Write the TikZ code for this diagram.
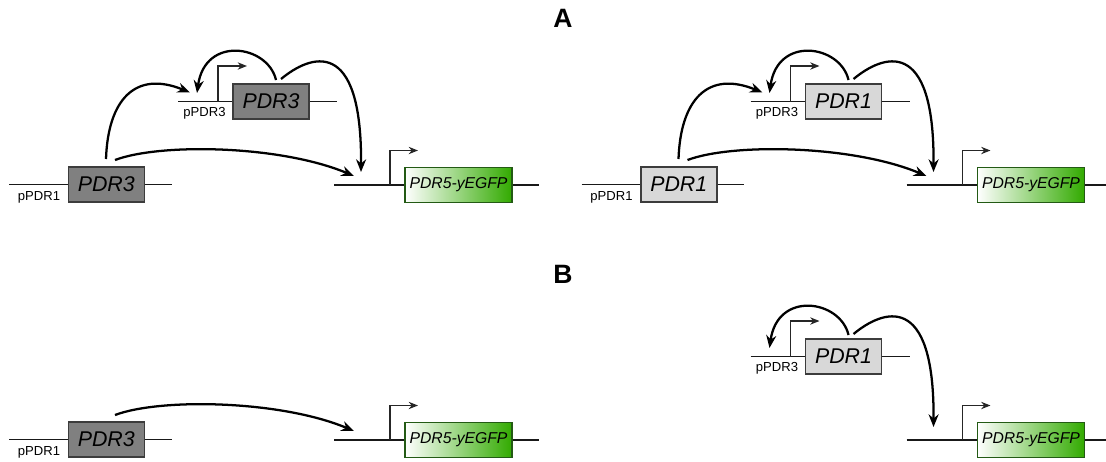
\documentclass[tikz,border=0pt]{standalone}
\usepackage{fontspec}
\setmainfont{Liberation Sans}
\usetikzlibrary{arrows.meta}

\definecolor{genedark}{RGB}{128,128,128}
\definecolor{genelight}{RGB}{216,216,216}
\definecolor{geneedge}{RGB}{60,60,60}
\definecolor{egfp}{RGB}{50,170,0}
\definecolor{egfpedge}{RGB}{35,90,20}

\tikzset{
  dnaline/.style={line width=1.4pt, black!90},
  genebox/.style={draw=geneedge, line width=1.2pt, minimum width=57pt,
    minimum height=26.25pt, inner sep=0pt,
    font=\fontsize{16}{16}\selectfont\itshape},
  darkgene/.style={genebox, fill=genedark},
  lightgene/.style={genebox, fill=genelight},
  reportbox/.style={draw=egfpedge, line width=1.1pt, minimum width=80.25pt,
    minimum height=26.25pt, inner sep=0pt, left color=white, right color=egfp,
    font=\fontsize{11.8}{12}\selectfont\itshape},
  promlabel/.style={font=\fontsize{9.8}{10}\selectfont, inner sep=0pt, anchor=base},
  promoter/.style={line width=1pt, black!85, -{Stealth[length=7pt,width=5.5pt]}},
  regarrow/.style={line width=1.7pt, -{Stealth[length=9.5pt,width=7.5pt]}},
  panellabel/.style={font=\fontsize{19.9}{20}\selectfont\bfseries},
}

% driver cassette under the PDR1 promoter: name prefix, box style, gene
\newcommand\lowerdriver[3]{%
  \coordinate (#1l) at (9,184.5);
  \coordinate (#1r) at (171.7,184.5);
  \node[#2] (#1box) at (106.3,184.5) {#3};
  \draw[dnaline] (#1l) -- (#1box.west);
  \draw[dnaline] (#1box.east) -- (#1r);
  \node[promlabel] (#1lab) at (39,200) {pPDR1};
  \coordinate (#1up) at (106,159);
  \coordinate (#1fwd) at (115,160);
}

% driver cassette under the PDR3 promoter
\newcommand\upperdriver[3]{%
  \coordinate (#1l) at (178,101.5);
  \coordinate (#1r) at (337,101.5);
  \node[#2] (#1box) at (271,101.5) {#3};
  \draw[dnaline] (#1l) -- (#1box.west);
  \draw[dnaline] (#1box.east) -- (#1r);
  \coordinate (#1tss) at (218,101.5);
  \coordinate (#1tsstip) at (247,66);
  \draw[promoter] (#1tss) |- (#1tsstip);
  \node[promlabel] (#1lab) at (204.5,116) {pPDR3};
  \coordinate (#1inA) at (190,92.5);
  \coordinate (#1inB) at (197,93);
  \coordinate (#1self) at (276,80);
  \coordinate (#1fwd) at (281,79);
}

% PDR5-yEGFP reporter: name prefix, right end of the DNA line
\newcommand\reportergene[2]{%
  \coordinate (#1l) at (334,185);
  \coordinate (#1r) at (#2,185);
  \node[reportbox] (#1box) at (458.5,185) {PDR5-yEGFP};
  \draw[dnaline] (#1l) -- (#1box.west);
  \draw[dnaline] (#1box.east) -- (#1r);
  \coordinate (#1tss) at (390,185);
  \coordinate (#1tsstip) at (418,150.5);
  \draw[promoter] (#1tss) |- (#1tsstip);
  \coordinate (#1inA) at (354,176);
  \coordinate (#1inB) at (361,172);
}

\begin{document}
\begin{tikzpicture}[x=0.75pt, y=-0.75pt]
  \path[fill=white] (0,0) rectangle (1106,461);
  \useasboundingbox (0,0) rectangle (1106,461);

  \node[panellabel] (labA) at (563,18) {A};
  \node[panellabel] (labB) at (563,274) {B};

  % A, left: PDR3 driving both promoters
  \lowerdriver{al}{darkgene}{PDR3}
  \upperdriver{au}{darkgene}{PDR3}
  \reportergene{ar}{538.6}
  \draw[regarrow] (alup) .. controls +(2,-59) and +(-55,-22.5) .. (auinA);
  \draw[regarrow] (alfwd) .. controls +(45,-17) and +(-74,-31) .. (arinA);
  \draw[regarrow] (auself) .. controls +(-8,-35) and +(8,-58) .. (auinB);
  \draw[regarrow] (aufwd) .. controls +(29,-24) and +(1,-137) .. (arinB);

  % A, right: PDR1 driving both promoters
  \begin{scope}[shift={(572.5,0)}]
    \lowerdriver{bl}{lightgene}{PDR1}
    \upperdriver{bu}{lightgene}{PDR1}
    \reportergene{br}{533.5}
  \end{scope}
  \draw[regarrow] (blup) .. controls +(2,-59) and +(-55,-22.5) .. (buinA);
  \draw[regarrow] (blfwd) .. controls +(45,-17) and +(-74,-31) .. (brinA);
  \draw[regarrow] (buself) .. controls +(-8,-35) and +(8,-58) .. (buinB);
  \draw[regarrow] (bufwd) .. controls +(29,-24) and +(1,-137) .. (brinB);

  % B, left: PDR3 from pPDR1 only
  \begin{scope}[shift={(0,255)}]
    \lowerdriver{cl}{darkgene}{PDR3}
    \reportergene{cr}{538.6}
  \end{scope}
  \draw[regarrow] (clfwd) .. controls +(45,-17) and +(-74,-31) .. (crinA);

  % B, right: PDR1 from pPDR3 only
  \begin{scope}[shift={(572.5,255)}]
    \upperdriver{du}{lightgene}{PDR1}
    \reportergene{dr}{533.5}
  \end{scope}
  \draw[regarrow] (duself) .. controls +(-8,-35) and +(8,-58) .. (duinB);
  \draw[regarrow] (dufwd) .. controls +(29,-24) and +(1,-137) .. (drinB);
\end{tikzpicture}
\end{document}
